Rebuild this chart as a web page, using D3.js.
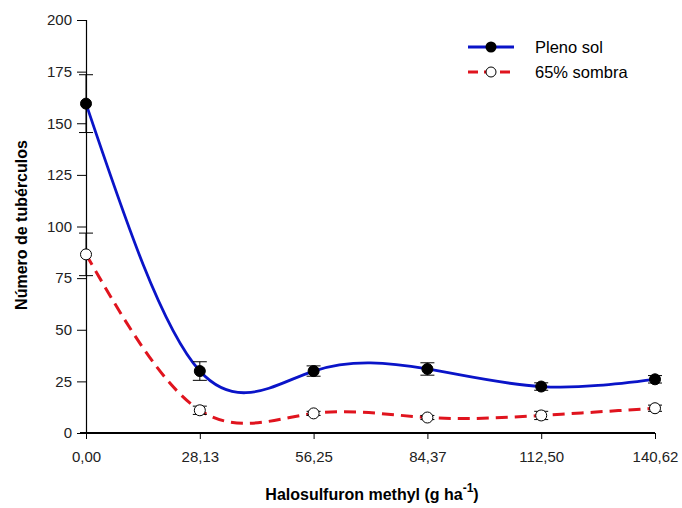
<!DOCTYPE html>
<html>
<head>
<meta charset="utf-8">
<script src="https://cdn.jsdelivr.net/npm/d3@7"></script>
<style>
  body { margin: 0; background: #fff; }
  text { font-family: "Liberation Sans", Arial, sans-serif; }
</style>
</head>
<body>
<div id="chart"></div>
<script>
var doses = [0, 28.13, 56.25, 84.37, 112.50, 140.62];
var doseLabels = ["0,00", "28,13", "56,25", "84,37", "112,50", "140,62"];
var plenoSol = [159.5, 30, 30, 31, 22.5, 26];
var plenoErr = [14, 4.5, 2.5, 3, 1.8, 1.8];
var sombra = [86.5, 11, 9.5, 7.5, 8.5, 12];
var sombraErr = [10.3, 2, 1, 1, 2, 1.5];
var yTicks = [0, 25, 50, 75, 100, 125, 150, 175, 200];

var chart = {};
chart.w = 682;
chart.h = 508;

chart.svg = d3.select("#chart")
  .append("svg")
  .attr("width", chart.w)
  .attr("height", chart.h);

chart.x = d3.scaleLinear().domain([0, 140.62]).range([86, 655]);
chart.y = d3.scaleLinear().domain([0, 200]).range([433, 20]);

// y axis
var yAxis = chart.svg.append("g")
  .attr("transform", "translate(86,0)")
  .call(d3.axisLeft(chart.y).tickValues(yTicks).tickSize(9).tickPadding(5).tickFormat(d3.format("d")));
yAxis.select(".domain").attr("stroke", "#000").attr("stroke-width", 1.2);
yAxis.selectAll("text").attr("font-size", 15).attr("fill", "#222");

// x axis
var xAxis = chart.svg.append("g")
  .attr("transform", "translate(0,433)")
  .call(d3.axisBottom(chart.x).tickValues(doses).tickSize(6).tickPadding(12)
    .tickFormat(function(d, i) { return doseLabels[i]; }));
xAxis.select(".domain").attr("stroke", "#000").attr("stroke-width", 2).attr("d", "M80,0H655");
xAxis.selectAll("text").attr("font-size", 15).attr("fill", "#222");

// axis titles
chart.svg.append("text")
  .attr("transform", "translate(27,225) rotate(-90)")
  .attr("text-anchor", "middle")
  .attr("font-size", 16)
  .attr("font-weight", "bold")
  .text("Número de tubérculos");

var xt = chart.svg.append("text")
  .attr("x", 372)
  .attr("y", 500)
  .attr("text-anchor", "middle")
  .attr("font-size", 16)
  .attr("font-weight", "bold");
xt.append("tspan").text("Halosulfuron methyl (g ha");
xt.append("tspan").attr("dy", -8).attr("font-size", 12).text("-1");
xt.append("tspan").attr("dy", 8).text(")");

// curves
var line = d3.line()
  .x(function(d) { return chart.x(d[0]); })
  .y(function(d) { return chart.y(d[1]); })
  .curve(d3.curveNatural);

chart.svg.append("path")
  .datum(doses.map(function(d, i) { return [d, plenoSol[i]]; }))
  .attr("d", line)
  .attr("fill", "none")
  .attr("stroke", "#0a14c8")
  .attr("stroke-width", 2.8);

chart.svg.append("path")
  .datum(doses.map(function(d, i) { return [d, sombra[i]]; }))
  .attr("d", line)
  .attr("fill", "none")
  .attr("stroke", "#e0141e")
  .attr("stroke-width", 3)
  .attr("stroke-dasharray", "12,7");

// error bars + points
function drawSeries(vals, errs, fill) {
  var g = chart.svg.append("g");
  var eb = g.selectAll(".eb").data(doses).enter().append("g").attr("class", "eb");
  eb.append("line")
    .attr("x1", function(d) { return chart.x(d); })
    .attr("x2", function(d) { return chart.x(d); })
    .attr("y1", function(d, i) { return chart.y(vals[i] + errs[i]); })
    .attr("y2", function(d, i) { return chart.y(vals[i] - errs[i]); })
    .attr("stroke", "#000").attr("stroke-width", 1);
  [1, -1].forEach(function(s) {
    eb.append("line")
      .attr("x1", function(d) { return chart.x(d) - 7; })
      .attr("x2", function(d) { return chart.x(d) + 7; })
      .attr("y1", function(d, i) { return chart.y(vals[i] + s * errs[i]); })
      .attr("y2", function(d, i) { return chart.y(vals[i] + s * errs[i]); })
      .attr("stroke", "#000").attr("stroke-width", 1);
  });
  g.selectAll("circle").data(doses).enter().append("circle")
    .attr("cx", function(d) { return chart.x(d); })
    .attr("cy", function(d, i) { return chart.y(vals[i]); })
    .attr("r", 5.5)
    .attr("fill", fill)
    .attr("stroke", "#000")
    .attr("stroke-width", 1);
}
drawSeries(plenoSol, plenoErr, "#000");
drawSeries(sombra, sombraErr, "#fff");

// legend
var legend = chart.svg.append("g");
legend.append("line").attr("x1", 468).attr("x2", 514).attr("y1", 47).attr("y2", 47)
  .attr("stroke", "#0a14c8").attr("stroke-width", 2.8);
legend.append("circle").attr("cx", 491).attr("cy", 47).attr("r", 5.5).attr("fill", "#000");
legend.append("text").attr("x", 535).attr("y", 53).attr("font-size", 16.5).text("Pleno sol");
legend.append("line").attr("x1", 468).attr("x2", 514).attr("y1", 72).attr("y2", 72)
  .attr("stroke", "#e0141e").attr("stroke-width", 3).attr("stroke-dasharray", "10,6");
legend.append("circle").attr("cx", 491).attr("cy", 72).attr("r", 5).attr("fill", "#fff")
  .attr("stroke", "#000").attr("stroke-width", 1);
legend.append("text").attr("x", 535).attr("y", 78).attr("font-size", 16.5).text("65% sombra");
</script>
</body>
</html>
